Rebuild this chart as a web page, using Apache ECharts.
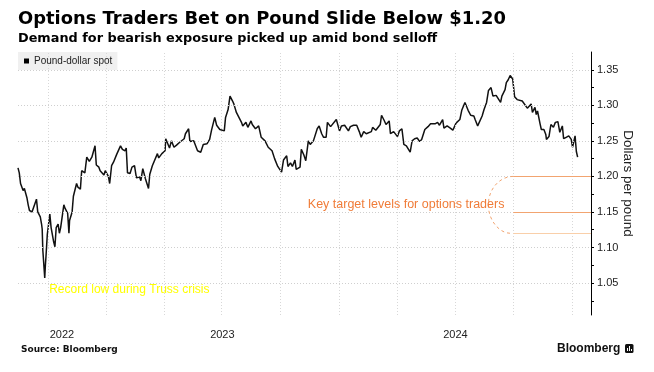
<!DOCTYPE html>
<html><head><meta charset="utf-8">
<script src="https://cdn.jsdelivr.net/npm/echarts@6/dist/echarts.min.js"></script>
<style>html,body{margin:0;padding:0;background:#fff}#c{width:654px;height:372px}</style>
</head><body><div id="c"></div>
<script>
const dates = ['2022-08-15','2022-08-17','2022-08-19','2022-08-23','2022-08-25','2022-08-29','2022-08-31','2022-09-02','2022-09-06','2022-09-08','2022-09-13','2022-09-15','2022-09-19','2022-09-21','2022-09-22','2022-09-23','2022-09-26','2022-09-27','2022-09-28','2022-09-30','2022-10-04','2022-10-06','2022-10-10','2022-10-12','2022-10-14','2022-10-17','2022-10-19','2022-10-21','2022-10-24','2022-10-26','2022-10-28','2022-11-01','2022-11-03','2022-11-04','2022-11-08','2022-11-10','2022-11-15','2022-11-17','2022-11-21','2022-11-23','2022-11-28','2022-12-01','2022-12-05','2022-12-07','2022-12-09','2022-12-14','2022-12-16','2022-12-20','2022-12-22','2022-12-28','2022-12-30','2023-01-04','2023-01-06','2023-01-09','2023-01-12','2023-01-17','2023-01-23','2023-01-26','2023-01-30','2023-02-01','2023-02-03','2023-02-07','2023-02-10','2023-02-14','2023-02-17','2023-02-22','2023-02-24','2023-02-27','2023-03-03','2023-03-08','2023-03-10','2023-03-14','2023-03-17','2023-03-22','2023-03-24','2023-03-29','2023-04-03','2023-04-04','2023-04-10','2023-04-13','2023-04-17','2023-04-21','2023-04-26','2023-04-28','2023-05-03','2023-05-05','2023-05-10','2023-05-12','2023-05-18','2023-05-24','2023-05-29','2023-06-02','2023-06-08','2023-06-12','2023-06-15','2023-06-20','2023-06-23','2023-06-28','2023-07-05','2023-07-07','2023-07-11','2023-07-14','2023-07-18','2023-07-20','2023-07-24','2023-07-27','2023-08-01','2023-08-03','2023-08-08','2023-08-11','2023-08-16','2023-08-18','2023-08-23','2023-08-28','2023-09-01','2023-09-07','2023-09-12','2023-09-18','2023-09-22','2023-09-27','2023-10-03','2023-10-06','2023-10-11','2023-10-13','2023-10-17','2023-10-20','2023-10-24','2023-10-26','2023-11-01','2023-11-03','2023-11-07','2023-11-10','2023-11-14','2023-11-17','2023-11-22','2023-11-28','2023-12-01','2023-12-05','2023-12-08','2023-12-12','2023-12-14','2023-12-19','2023-12-22','2023-12-28','2024-01-02','2024-01-05','2024-01-10','2024-01-16','2024-01-19','2024-01-24','2024-01-29','2024-02-02','2024-02-05','2024-02-09','2024-02-13','2024-02-16','2024-02-21','2024-02-23','2024-02-28','2024-03-01','2024-03-06','2024-03-08','2024-03-12','2024-03-15','2024-03-20','2024-03-22','2024-03-27','2024-04-02','2024-04-05','2024-04-09','2024-04-12','2024-04-16','2024-04-22','2024-04-25','2024-04-29','2024-05-03','2024-05-07','2024-05-10','2024-05-15','2024-05-20','2024-05-24','2024-05-31','2024-06-04','2024-06-07','2024-06-12','2024-06-14','2024-06-19','2024-06-24','2024-06-28','2024-07-03','2024-07-09','2024-07-12','2024-07-17','2024-07-22','2024-07-26','2024-07-31','2024-08-02','2024-08-06','2024-08-08','2024-08-13','2024-08-16','2024-08-20','2024-08-23','2024-08-27','2024-08-30','2024-09-04','2024-09-06','2024-09-11','2024-09-13','2024-09-18','2024-09-20','2024-09-23','2024-09-26','2024-09-30','2024-10-03','2024-10-07','2024-10-10','2024-10-15','2024-10-18','2024-10-23','2024-10-25','2024-10-29','2024-10-31','2024-11-04','2024-11-06','2024-11-08','2024-11-12','2024-11-14','2024-11-18','2024-11-21','2024-11-22','2024-11-26','2024-11-29','2024-12-03','2024-12-06','2024-12-10','2024-12-13','2024-12-17','2024-12-19','2024-12-23','2024-12-27','2024-12-31','2025-01-02','2025-01-06','2025-01-08','2025-01-10'];
const values = [1.212,1.205,1.190,1.180,1.183,1.170,1.160,1.152,1.150,1.152,1.168,1.150,1.143,1.133,1.126,1.096,1.057,1.075,1.088,1.118,1.147,1.128,1.108,1.101,1.128,1.133,1.120,1.128,1.130,1.160,1.155,1.148,1.120,1.138,1.150,1.172,1.190,1.185,1.182,1.208,1.205,1.227,1.221,1.222,1.227,1.243,1.216,1.213,1.208,1.202,1.208,1.200,1.190,1.215,1.220,1.231,1.243,1.238,1.236,1.240,1.205,1.204,1.213,1.215,1.198,1.199,1.194,1.211,1.197,1.183,1.203,1.215,1.215,1.232,1.226,1.232,1.236,1.253,1.240,1.250,1.241,1.244,1.248,1.246,1.253,1.260,1.267,1.249,1.250,1.236,1.234,1.245,1.246,1.252,1.265,1.283,1.272,1.266,1.264,1.283,1.294,1.313,1.306,1.302,1.290,1.288,1.276,1.271,1.276,1.269,1.278,1.273,1.267,1.271,1.255,1.250,1.241,1.236,1.225,1.214,1.206,1.223,1.229,1.214,1.219,1.214,1.223,1.210,1.213,1.238,1.230,1.222,1.250,1.245,1.250,1.267,1.271,1.260,1.255,1.255,1.276,1.270,1.269,1.280,1.264,1.271,1.272,1.264,1.270,1.272,1.272,1.263,1.255,1.263,1.260,1.260,1.263,1.269,1.265,1.266,1.273,1.286,1.279,1.273,1.278,1.260,1.263,1.256,1.264,1.267,1.245,1.243,1.234,1.250,1.253,1.254,1.249,1.252,1.266,1.270,1.274,1.274,1.276,1.272,1.280,1.268,1.271,1.268,1.265,1.275,1.280,1.293,1.304,1.293,1.286,1.285,1.280,1.271,1.270,1.285,1.294,1.304,1.321,1.325,1.313,1.314,1.312,1.304,1.313,1.322,1.332,1.336,1.342,1.337,1.312,1.308,1.307,1.306,1.304,1.296,1.297,1.302,1.290,1.297,1.287,1.292,1.274,1.266,1.266,1.259,1.252,1.256,1.273,1.269,1.276,1.277,1.262,1.271,1.253,1.255,1.257,1.252,1.241,1.257,1.235,1.227];
const quarterDates = ['2022-10-01','2023-01-01','2023-04-01','2023-07-01','2023-10-01','2024-01-01','2024-04-01','2024-07-01','2024-10-01','2025-01-01'];
const yLabelValues = [1.05,1.10,1.15,1.20,1.25,1.30,1.35];
const yTickValues = [1.025,1.05,1.075,1.10,1.125,1.15,1.175,1.20,1.225,1.25,1.275,1.30,1.325,1.35];
const xLabelDates = ['2022-10-23','2023-07-02','2024-07-02'];
const xLabels = ['2022','2023','2024'];
const targetLevels = [1.20,1.15,1.12];
const targetStart = '2024-10-01';
const xMin = '2022-08-15', xMax = '2025-01-31';
const yMin = 1.005, yMax = 1.375;

(function(){
const ts = d => { const p = d.split('-').map(Number); return Date.UTC(p[0], p[1]-1, p[2]); };
const chart = echarts.init(document.getElementById('c'), null, {renderer:'canvas'});
const xLabelTs = xLabelDates.map(ts);

const option = {
  animation:false,
  backgroundColor:'#fff',
  title:[
    {text:'Options Traders Bet on Pound Slide Below $1.20', left:18, top:10, padding:0,
     textStyle:{fontFamily:'DejaVu Sans', fontWeight:'bold', fontSize:17.9, color:'#000'}},
    {text:'Demand for bearish exposure picked up amid bond selloff', left:18, top:32, padding:0,
     textStyle:{fontFamily:'DejaVu Sans', fontWeight:'bold', fontSize:12.85, color:'#000'}},
    {text:'Source: Bloomberg', left:21, top:345, padding:0,
     textStyle:{fontFamily:'DejaVu Sans', fontWeight:'bold', fontSize:9, color:'#111'}},
    {text:'Bloomberg', left:557, top:343, padding:0,
     textStyle:{fontFamily:'Liberation Sans', fontWeight:'bold', fontSize:12, color:'#111'}}
  ],
  legend:{left:18, top:52, padding:[4,5,4,6], backgroundColor:'#f0f0f0', icon:'rect', itemWidth:5, itemHeight:5,
    textStyle:{fontFamily:'Liberation Sans', fontSize:10, color:'#222'}, data:['Pound-dollar spot']},
  grid:{left:18, right:63, top:52, bottom:57},
  xAxis:{type:'value', min:ts(xMin), max:ts(xMax),
    axisLine:{show:false}, axisTick:{show:false}, splitLine:{show:false},
    axisLabel:{customValues:xLabelTs, margin:14, fontFamily:'Liberation Sans', fontSize:11, color:'#222',
      formatter:(v)=>{let best=0;for(let i=0;i<xLabelTs.length;i++){if(Math.abs(xLabelTs[i]-v)<Math.abs(xLabelTs[best]-v))best=i;}return xLabels[best];}}},
  yAxis:{type:'value', position:'right', min:yMin, max:yMax,
    axisLine:{show:true, lineStyle:{color:'#000', width:1}},
    axisTick:{show:true, customValues:yTickValues, length:3, lineStyle:{color:'#000'}},
    axisLabel:{customValues:yLabelValues, margin:6, fontFamily:'Liberation Sans', fontSize:11, color:'#222',
      formatter:(v)=>v.toFixed(2)},
    splitLine:{show:false},
    name:'Dollars per pound', nameLocation:'middle', nameRotate:-90, nameGap:30, nameMoveOverlap:false,
    nameTextStyle:{fontFamily:'Liberation Sans', fontSize:13.5, color:'#222'}},
  series:[
    {type:'line', name:'grid', data:[], z:0, silent:true,
     markLine:{silent:true, symbol:'none', label:{show:false}, animation:false,
       data:[
         ...quarterDates.map(d=>({xAxis:ts(d), lineStyle:{color:'#d8d8d8', type:[1,2], width:1}})),
         ...yLabelValues.map(v=>({yAxis:v, lineStyle:{color:'#cfcfcf', type:[1,2], width:1}}))
       ]}},
    {type:'line', name:'Pound-dollar spot', data:dates.map((d,i)=>[ts(d),values[i]]), showSymbol:false, z:3,
     lineStyle:{color:'#111', width:1.5}, itemStyle:{color:'#000'},
     markLine:{silent:true, symbol:'none', label:{show:false}, animation:false,
       data: targetLevels.map((v,i)=>[
         {coord:[ts(targetStart), v], lineStyle:{color: i<2 ? '#f2a470' : '#f9cfa9', width:1, type:'solid'}},
         {coord:[ts(xMax), v]}
       ])}}
  ]
};
chart.setOption(option);

const P = (d,v)=>chart.convertToPixel({gridIndex:0},[ts(d),v]);
const pTop = P(targetStart, targetLevels[0]);
const pBot = P(targetStart, targetLevels[2]);
const cx = pTop[0], cy = (pTop[1]+pBot[1])/2, ry = (pBot[1]-pTop[1])/2, rx = 25, k = 0.5523;
const keyPos = P('2024-09-17', 1.161);
const lowPos = P('2022-10-03', 1.040);
const iconX = 625, iconY = 344;
const arcStyle = {fill:null, stroke:'#f2a470', lineWidth:1, lineDash:[3,3]};
chart.setOption({graphic:[
  {type:'bezierCurve', shape:{x1:cx, y1:pTop[1], cpx1:cx-k*rx, cpy1:cy-ry, cpx2:cx-rx, cpy2:cy-k*ry, x2:cx-rx, y2:cy}, style:arcStyle, z:10},
  {type:'bezierCurve', shape:{x1:cx-rx, y1:cy, cpx1:cx-rx, cpy1:cy+k*ry, cpx2:cx-k*rx, cpy2:cy+ry, x2:cx-3, y2:cy+ry}, style:arcStyle, z:10},
  {type:'text', x:keyPos[0], y:keyPos[1], style:{text:'Key target levels for options traders', fill:'#f07c38',
     font:'12.5px "Liberation Sans"', align:'right', verticalAlign:'middle'}, z:11},
  {type:'text', x:lowPos[0], y:lowPos[1], style:{text:'Record low during Truss crisis', fill:'#ffff00',
     font:'12px "Liberation Sans"', align:'left', verticalAlign:'middle'}, z:11},
  {type:'rect', shape:{x:iconX, y:iconY, width:8.5, height:9, r:1.5}, style:{fill:'#111'}, z:11},
  {type:'rect', shape:{x:iconX+2, y:iconY+4, width:1, height:3}, style:{fill:'#fff'}, z:12},
  {type:'rect', shape:{x:iconX+4, y:iconY+2, width:1, height:5}, style:{fill:'#fff'}, z:12},
  {type:'rect', shape:{x:iconX+6, y:iconY+5, width:1, height:2}, style:{fill:'#fff'}, z:12}
]});
})();
</script></body></html>
